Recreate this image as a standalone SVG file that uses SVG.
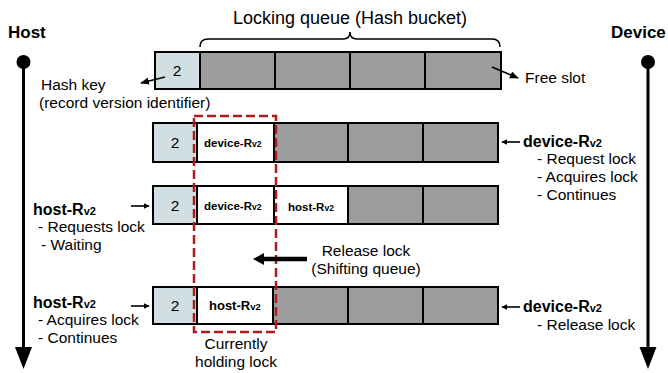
<svg xmlns="http://www.w3.org/2000/svg" width="668" height="373" viewBox="0 0 668 373">
<defs>
<style>
text{font-family:"Liberation Sans",Arial,Helvetica,sans-serif;fill:#000}
.t{font-size:15.5px}
.title{font-size:18px}
.hd{font-size:17px;font-weight:bold}
.lb{font-size:16px;font-weight:bold}
.cl{font-size:11.5px;font-weight:bold}
.key{fill:#d2dfe2;stroke:#000;stroke-width:2}
.slot{fill:#9c9c9c;stroke:#000;stroke-width:2}
.busy{fill:#fff;stroke:#000;stroke-width:2}
.ln{stroke:#000;stroke-width:1.6;fill:none}
</style>
<marker id="ah" viewBox="0 0 10 10" refX="9" refY="5" markerWidth="6" markerHeight="6" orient="auto" markerUnits="userSpaceOnUse">
<path d="M0,0 L10,5 L0,10 z" fill="#000"/>
</marker>
<marker id="ah2" viewBox="0 0 10 10" refX="9" refY="5" markerWidth="9" markerHeight="9" orient="auto" markerUnits="userSpaceOnUse">
<path d="M0,1 L10,5 L0,9 z" fill="#000"/>
</marker>
</defs>
<rect width="668" height="373" fill="#fff"/>

<g id="host-timeline">
<text class="hd" x="8" y="38">Host</text>
<circle cx="23.5" cy="62" r="7" fill="#000"/>
<line x1="23.5" y1="62" x2="23.5" y2="350" stroke="#000" stroke-width="3"/>
<polygon points="15,347 32,347 23.5,369" fill="#000"/>
</g>
<g id="device-timeline">
<text class="hd" x="611" y="38">Device</text>
<circle cx="648" cy="62" r="7" fill="#000"/>
<line x1="648" y1="62" x2="648" y2="350" stroke="#000" stroke-width="3"/>
<polygon points="639.5,347 656.5,347 648,369" fill="#000"/>
</g>

<g id="title">
<text class="title" x="350" y="24" text-anchor="middle">Locking queue (Hash bucket)</text>
<path d="M200,47 Q200,39 208,39 L343,39 Q350,39 350,32 Q350,39 357,39 L492,39 Q500,39 500,47" class="ln"/>
</g>

<g id="row1">
<rect class="key" x="155" y="52" width="45" height="37"/>
<rect class="slot" x="200" y="52" width="75" height="37"/>
<rect class="slot" x="275" y="52" width="75" height="37"/>
<rect class="slot" x="350" y="52" width="75" height="37"/>
<rect class="slot" x="425" y="52" width="76" height="37"/>
<text class="t" x="177" y="76" text-anchor="middle">2</text>
</g>
<g id="hash-key-label">
<text class="t" x="41" y="90">Hash key</text>
<text class="t" x="39" y="108">(record version identifier)</text>
</g>
<g id="free-slot-label">
<text class="t" x="525" y="83">Free slot</text>
</g>

<g id="row2">
<rect class="key" x="153" y="123" width="44" height="39"/>
<rect class="busy" x="197" y="123" width="77" height="39"/>
<rect class="slot" x="274" y="123" width="74" height="39"/>
<rect class="slot" x="348" y="123" width="75" height="39"/>
<rect class="slot" x="423" y="123" width="75" height="39"/>
<text class="t" x="175" y="148" text-anchor="middle">2</text>
<text class="cl" x="204" y="147">device-R<tspan font-size="8.5px">v2</tspan></text>
</g>
<g id="device-request">
<text class="lb" x="523" y="147">device-R<tspan font-size="11px">v2</tspan></text>
<text class="t" x="537" y="164">- Request lock</text>
<text class="t" x="537" y="182">- Acquires lock</text>
<text class="t" x="537" y="200">- Continues</text>
</g>

<g id="row3">
<rect class="key" x="153" y="186" width="44" height="38"/>
<rect class="busy" x="197" y="186" width="77" height="38"/>
<rect class="busy" x="274" y="186" width="74" height="38"/>
<rect class="slot" x="348" y="186" width="75" height="38"/>
<rect class="slot" x="423" y="186" width="75" height="38"/>
<text class="t" x="175" y="211" text-anchor="middle">2</text>
<text class="cl" x="204" y="210">device-R<tspan font-size="8.5px">v2</tspan></text>
<text class="cl" x="288" y="211">host-R<tspan font-size="8.5px">v2</tspan></text>
</g>
<g id="host-request">
<text class="lb" x="33" y="215">host-R<tspan font-size="11px">v2</tspan></text>
<text class="t" x="38" y="232">- Requests lock</text>
<text class="t" x="41" y="250">- Waiting</text>
</g>

<g id="release-label">
<text class="t" x="366" y="256" text-anchor="middle">Release lock</text>
<text class="t" x="366" y="274" text-anchor="middle">(Shifting queue)</text>
</g>

<g id="row4">
<rect class="key" x="153" y="287" width="44" height="37"/>
<rect class="busy" x="197" y="287" width="76" height="37"/>
<rect class="slot" x="273" y="287" width="75" height="37"/>
<rect class="slot" x="348" y="287" width="75" height="37"/>
<rect class="slot" x="423" y="287" width="75" height="37"/>
<text class="t" x="175" y="311" text-anchor="middle">2</text>
<text class="cl" x="209" y="310" style="font-size:13px">host-R<tspan font-size="9.5px">v2</tspan></text>
</g>
<g id="host-acquire">
<text class="lb" x="33" y="308">host-R<tspan font-size="11px">v2</tspan></text>
<text class="t" x="38" y="325">- Acquires lock</text>
<text class="t" x="38" y="343">- Continues</text>
</g>
<g id="device-release">
<text class="lb" x="523" y="312">device-R<tspan font-size="11px">v2</tspan></text>
<text class="t" x="537" y="330">- Release lock</text>
</g>

<g id="holding-box">
<rect x="194" y="116" width="82" height="216" fill="none" stroke="#b01c1c" stroke-width="2.5" stroke-dasharray="9,4"/>
<text class="t" x="236" y="349" text-anchor="middle">Currently</text>
<text class="t" x="236" y="367" text-anchor="middle">holding lock</text>
</g>

<g id="connectors">
<line class="ln" x1="165" y1="77" x2="141" y2="83" marker-end="url(#ah2)" stroke-width="2"/>
<line class="ln" x1="492" y1="67" x2="518" y2="78" marker-end="url(#ah2)" stroke-width="2"/>
<line class="ln" x1="520" y1="142" x2="502" y2="142" marker-end="url(#ah)" stroke-width="1.3"/>
<line class="ln" x1="131" y1="206" x2="149" y2="206" marker-end="url(#ah)" stroke-width="1.3"/>
<line class="ln" x1="131" y1="306" x2="149" y2="306" marker-end="url(#ah)" stroke-width="1.3"/>
<line class="ln" x1="520" y1="307" x2="502" y2="307" marker-end="url(#ah)" stroke-width="1.3"/>
<line x1="307" y1="259" x2="262" y2="259" stroke="#000" stroke-width="4.5"/>
<polygon points="253,259 264,253 264,265" fill="#000"/>
</g>
</svg>
